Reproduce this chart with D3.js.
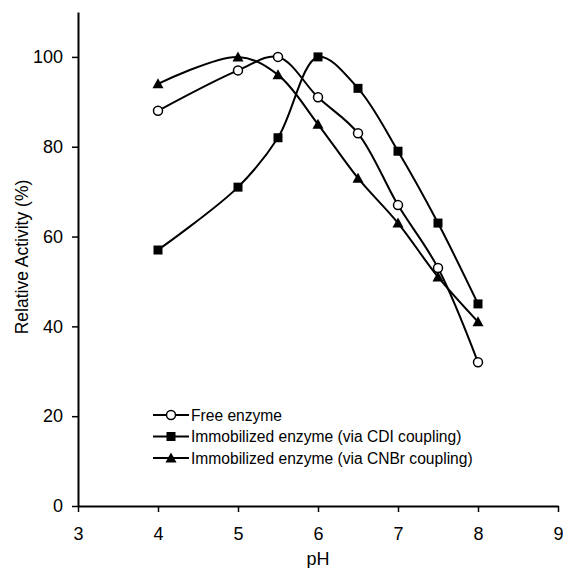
<!DOCTYPE html>
<html>
<head>
<meta charset="utf-8">
<script src="https://cdn.jsdelivr.net/npm/d3@7"></script>
<style>
    body { margin: 0; background: #fff; }
    text { font-family: "Liberation Sans", Arial, sans-serif; fill: #000; }
</style>
</head>
<body>
<svg></svg>
<script>
// data
var pH = [4, 5, 5.5, 6, 6.5, 7, 7.5, 8];
var freeEnzyme = [88, 97, 100, 91, 83, 67, 53, 32];
var cdiEnzyme = [57, 71, 82, 100, 93, 79, 63, 45];
var cnbrEnzyme = [94, 100, 96, 85, 73, 63, 51, 41];
var seriesNames = ["Free enzyme", "Immobilized enzyme (via CDI coupling)", "Immobilized enzyme (via CNBr coupling)"];
var xTicks = [3, 4, 5, 6, 7, 8, 9];
var yTicks = [0, 20, 40, 60, 80, 100];

var width = 563, height = 568;
var margin = {left: 78, top: 12, right: 5, bottom: 62};

var svg = d3.select("svg")
    .attr("width", width)
    .attr("height", height);

var xScale = d3.scaleLinear()
    .domain([3, 9])
    .range([margin.left, width - margin.right]);

var yScale = d3.scaleLinear()
    .domain([0, 110])
    .range([height - margin.bottom, margin.top]);

// axes
var xAxis = d3.axisBottom(xScale).tickValues(xTicks).tickFormat(d3.format("d"))
    .tickSize(6).tickSizeOuter(0).tickPadding(15);
var yAxis = d3.axisLeft(yScale).tickValues(yTicks).tickFormat(d3.format("d"))
    .tickSize(6).tickSizeOuter(0).tickPadding(9);

var gx = svg.append("g")
    .attr("transform", "translate(0," + yScale(0) + ")")
    .call(xAxis);
var gy = svg.append("g")
    .attr("transform", "translate(" + margin.left + ",0)")
    .call(yAxis);

[gx, gy].forEach(function (g) {
    g.select(".domain").attr("stroke", "#000").attr("stroke-width", 2);
    g.selectAll(".tick line").attr("stroke", "#000").attr("stroke-width", 1.5);
    g.selectAll(".tick text")
        .style("font-size", "18px")
        .style("font-family", "'Liberation Sans', Arial, sans-serif")
        .attr("fill", "#000");
});

// axis titles
svg.append("text")
    .attr("x", (xScale(3) + xScale(9)) / 2)
    .attr("y", 565)
    .attr("text-anchor", "middle")
    .style("font-size", "18px")
    .text("pH");

svg.append("text")
    .attr("transform", "translate(28," + 257 + ") rotate(-90)")
    .attr("text-anchor", "middle")
    .style("font-size", "17.5px")
    .text("Relative Activity (%)");

// series
var series = [
    {name: seriesNames[0], values: freeEnzyme, marker: "circle"},
    {name: seriesNames[1], values: cdiEnzyme, marker: "square"},
    {name: seriesNames[2], values: cnbrEnzyme, marker: "triangle"}
];

var line = d3.line()
    .x(function (d) { return xScale(d.x); })
    .y(function (d) { return yScale(d.y); })
    .curve(d3.curveCatmullRom.alpha(0.5));

function drawMarker(g, type, x, y) {
    if (type == "circle") {
        g.append("circle")
            .attr("cx", x).attr("cy", y).attr("r", 4.5)
            .attr("fill", "#fff").attr("stroke", "#000").attr("stroke-width", 1.5);
    } else if (type == "square") {
        g.append("rect")
            .attr("x", x - 4.5).attr("y", y - 4.5)
            .attr("width", 9).attr("height", 9)
            .attr("fill", "#000");
    } else {
        g.append("path")
            .attr("d", "M" + x + "," + (y - 5.5) + "L" + (x + 5.5) + "," + (y + 4.5) + "L" + (x - 5.5) + "," + (y + 4.5) + "Z")
            .attr("fill", "#000");
    }
}

series.forEach(function (s) {
    var pts = pH.map(function (p, i) { return {x: p, y: s.values[i]}; });
    svg.append("path")
        .datum(pts)
        .attr("fill", "none")
        .attr("stroke", "#000")
        .attr("stroke-width", 2)
        .attr("d", line);
});

series.forEach(function (s) {
    var g = svg.append("g");
    pH.forEach(function (p, i) {
        drawMarker(g, s.marker, xScale(p), yScale(s.values[i]));
    });
});

// legend
var legendX = 153, legendY = 415, legendGap = 21.5;
series.forEach(function (s, i) {
    var y = legendY + i * legendGap;
    var g = svg.append("g");
    g.append("line")
        .attr("x1", legendX).attr("x2", legendX + 36)
        .attr("y1", y).attr("y2", y)
        .attr("stroke", "#000").attr("stroke-width", 2);
    drawMarker(g, s.marker, legendX + 18, y);
    g.append("text")
        .attr("x", legendX + 38)
        .attr("y", y + 5.5)
        .style("font-size", "15.6px")
        .text(s.name);
});
</script>
</body>
</html>
